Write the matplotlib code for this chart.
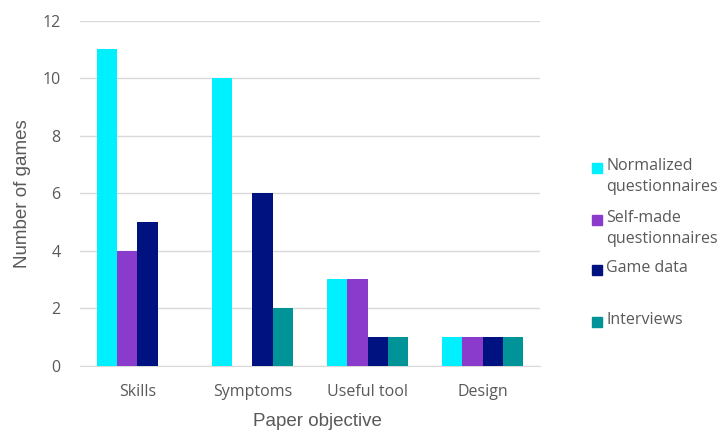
import matplotlib.pyplot as plt
import matplotlib.patches as mpatches
import numpy as np

# Данные: цели статей и методы оценки
categories = ['Skills', 'Symptoms', 'Useful tool', 'Design']
series_names = ['Normalized\nquestionnaires', 'Self-made\nquestionnaires', 'Game data', 'Interviews']
normalized = [11, 10, 3, 1]
self_made = [4, 0, 3, 1]
game_data = [5, 6, 1, 1]
interviews = [0, 2, 1, 1]
colors = ['#00F0FF', '#8B3BCB', '#00127F', '#009499']

plt.rcParams['font.family'] = ['Open Sans', 'DejaVu Sans']
text_color = '#595959'
title_font = ['Liberation Sans', 'DejaVu Sans']

fig = plt.figure(figsize=(7.26, 4.37), dpi=100)
ax = fig.add_axes([0.110, 0.163, 0.634, 0.790])

x = np.arange(len(categories))
width = 0.175
all_series = [normalized, self_made, game_data, interviews]
for i, (vals, col) in enumerate(zip(all_series, colors)):
    ax.bar(x + (i - 1.5) * width, vals, width, color=col, zorder=3)

ax.set_xlim(-0.5, len(categories) - 0.5)
ax.set_ylim(0, 12)
ax.set_yticks(range(0, 13, 2))
ax.set_xticks(x)
ax.set_xticklabels(categories)
ax.tick_params(length=0, colors=text_color, labelsize=11.5)
ax.tick_params(axis='x', pad=13)
ax.tick_params(axis='y', pad=14)
ax.grid(axis='y', color='#D9D9D9', linewidth=1, zorder=0)
for s in ['top', 'right', 'left']:
    ax.spines[s].set_visible(False)
ax.spines['bottom'].set_color('#D9D9D9')

ax.set_ylabel('Number of games', color=text_color, fontsize=13.5, labelpad=8,
              family=title_font)
ax.set_xlabel('Paper objective', color=text_color, fontsize=13.5,
              family=title_font)
ax.xaxis.set_label_coords(0.517, -0.137)

# Легенда справа, рисуем вручную: квадрат на уровне первой строки подписи
legend_y = [168, 220, 270, 322]
for name, col, yp in zip(series_names, colors, legend_y):
    fy = 1 - yp / 437
    fig.patches.append(mpatches.Rectangle((592 / 726, fy - 5 / 437), 10 / 726, 10 / 437,
                                          transform=fig.transFigure, color=col))
    fig.text(606 / 726, fy + 10 / 437, name, color=text_color,
             fontsize=11.5, va='top', ha='left', linespacing=1.4)

fig.savefig('out.png', dpi=100)
